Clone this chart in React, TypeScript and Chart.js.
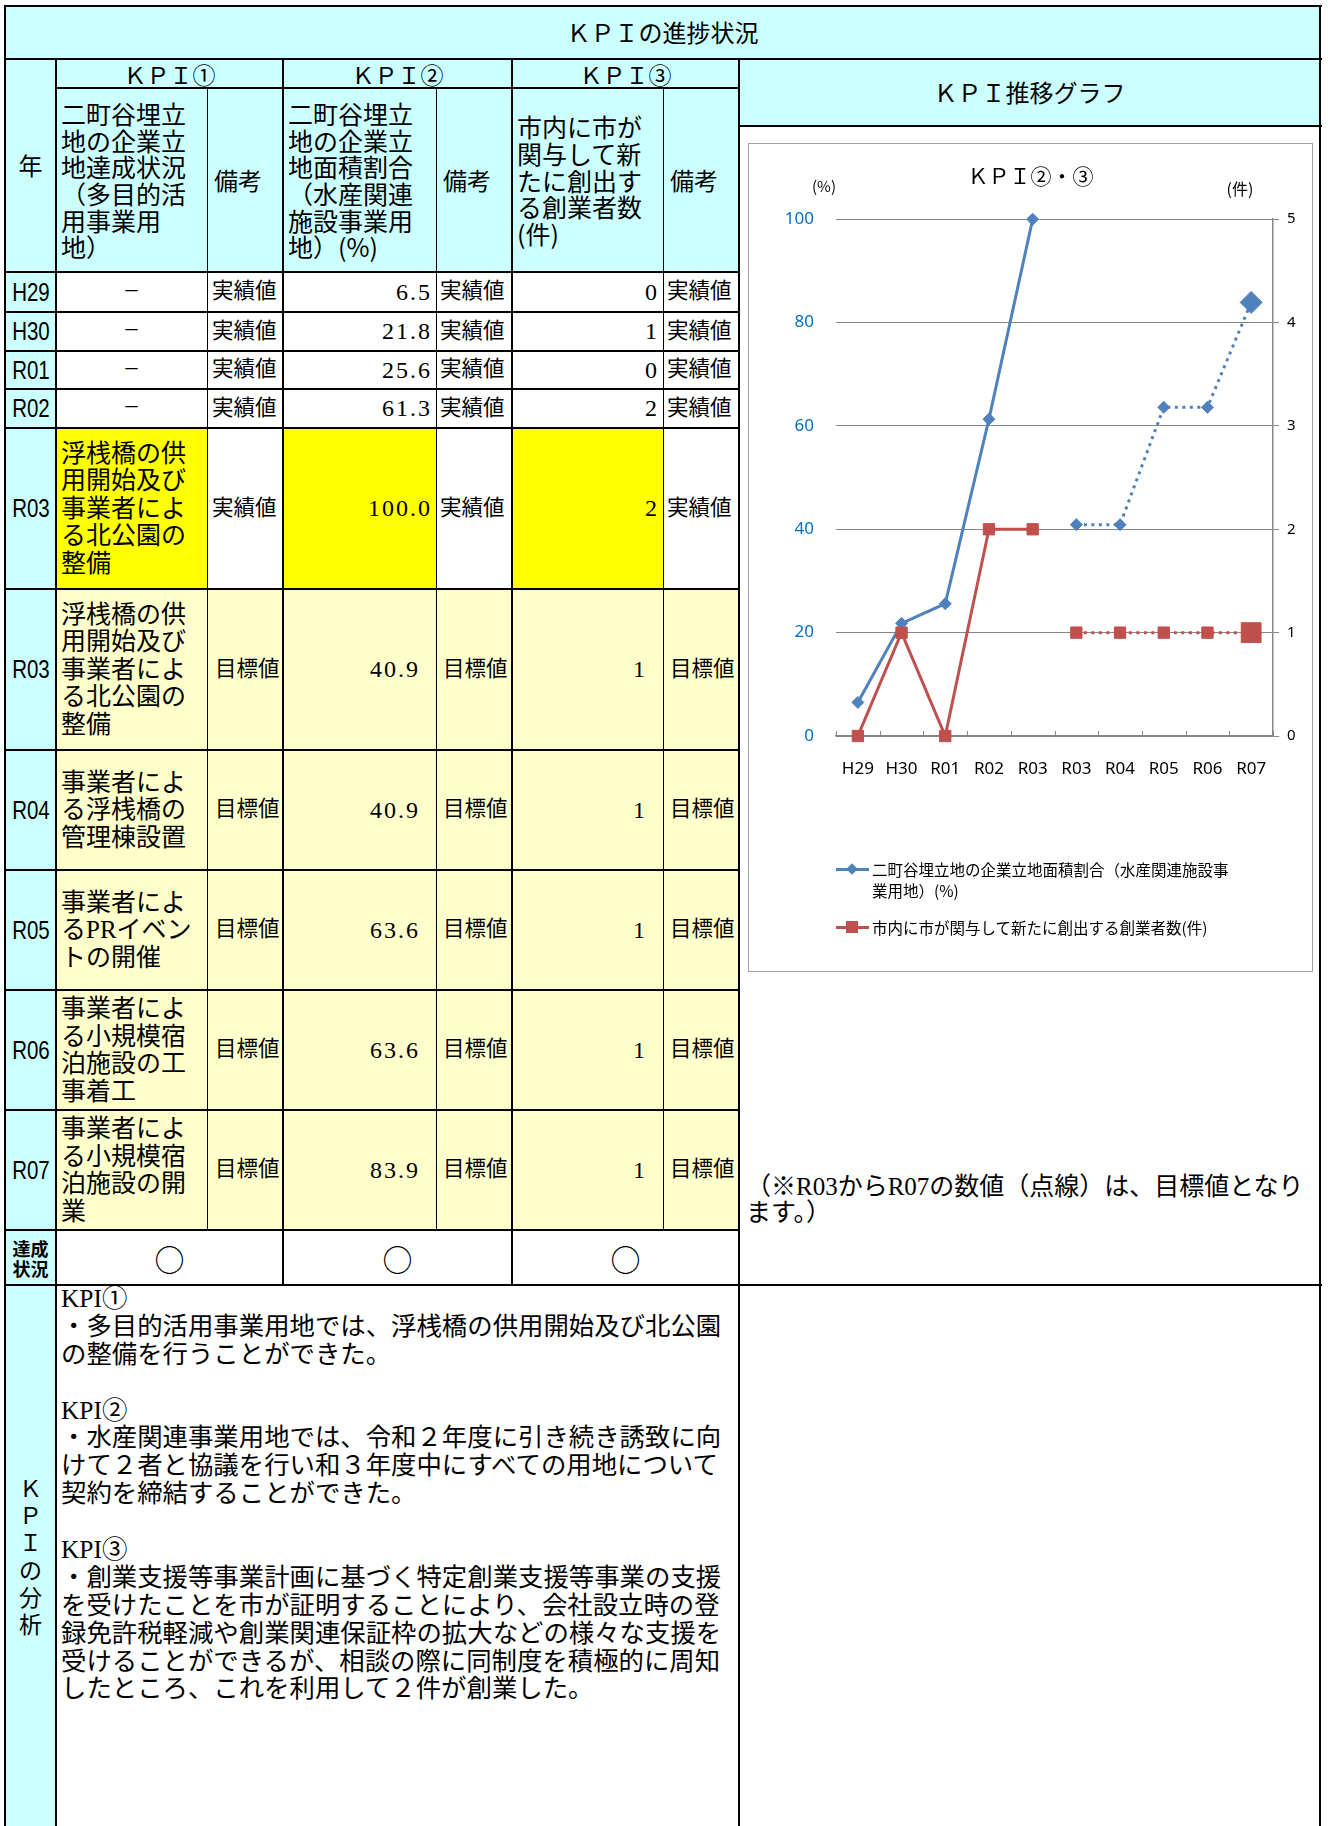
import React, { useEffect, useRef } from 'react';
import { Chart, registerables } from 'chart.js';

Chart.register(...registerables);

// ---------------- data ----------------
const categories = ['H29', 'H30', 'R01', 'R02', 'R03', 'R03', 'R04', 'R05', 'R06', 'R07'];
const valueKinds = ['実績値', '実績値', '実績値', '実績値', '実績値', '目標値', '目標値', '目標値', '目標値', '目標値'];
const kpi1Status = [
  '－', '－', '－', '－',
  '浮桟橋の供\n用開始及び\n事業者によ\nる北公園の\n整備',
  '浮桟橋の供\n用開始及び\n事業者によ\nる北公園の\n整備',
  '事業者によ\nる浮桟橋の\n管理棟設置',
  '事業者によ\nるPRイベン\nトの開催',
  '事業者によ\nる小規模宿\n泊施設の工\n事着工',
  '事業者によ\nる小規模宿\n泊施設の開\n業',
];
const kpi2Actual = [6.5, 21.8, 25.6, 61.3, 100.0, null, null, null, null, null];
const kpi2Target = [null, null, null, null, null, 40.9, 40.9, 63.6, 63.6, 83.9];
const kpi3Actual = [0, 1, 0, 2, 2, null, null, null, null, null];
const kpi3Target = [null, null, null, null, null, 1, 1, 1, 1, 1];
const leftTicks = [0, 20, 40, 60, 80, 100];
const rightTicks = [0, 1, 2, 3, 4, 5];
const seriesNames = [
  '二町谷埋立地の企業立地面積割合（水産関連施設事業用地）(%)',
  '市内に市が関与して新たに創出する創業者数(件)',
];
const achievement = ['○', '○', '○'];
const kpiHeaders = ['ＫＰＩ①', 'ＫＰＩ②', 'ＫＰＩ③'];
const kpiSubHeaders = [
  '二町谷埋立\n地の企業立\n地達成状況\n（多目的活\n用事業用\n地）',
  '二町谷埋立\n地の企業立\n地面積割合\n（水産関連\n施設事業用\n地）(%)',
  '市内に市が\n関与して新\nたに創出す\nる創業者数\n(件)',
];
const analysisLines = [
  'KPI①',
  '・多目的活用事業用地では、浮桟橋の供用開始及び北公園',
  'の整備を行うことができた。',
  '',
  'KPI②',
  '・水産関連事業用地では、令和２年度に引き続き誘致に向',
  'けて２者と協議を行い和３年度中にすべての用地について',
  '契約を締結することができた。',
  '',
  'KPI③',
  '・創業支援等事業計画に基づく特定創業支援等事業の支援',
  'を受けたことを市が証明することにより、会社設立時の登',
  '録免許税軽減や創業関連保証枠の拡大などの様々な支援を',
  '受けることができるが、相談の際に同制度を積極的に周知',
  'したところ、これを利用して２件が創業した。',
];
const pageTitle = 'ＫＰＩの進捗状況';
const graphHeader = 'ＫＰＩ推移グラフ';
const chartTitle = 'ＫＰＩ②・③';
const noteText = '（※R03からR07の数値（点線）は、目標値となり\nます。）';

// ---------------- layout / styles ----------------
const GOTHIC = '"Noto Sans CJK JP", "Noto Sans", sans-serif';
const MINCHO = '"Liberation Serif", "Noto Sans CJK JP", serif';
const LATIN = '"Noto Sans", "Noto Sans CJK JP", sans-serif';
const CYAN = '#CCFFFF';
const YELLOW = '#FFFF00';
const LIGHTY = '#FFFFCC';
const BLUE = '#4F81BD';
const RED = '#C0504D';
const GRID = '#868686';

const COLS = [5, 56, 207, 283, 436, 512, 663, 739, 1320];
const ROWS = [272, 312, 351, 389, 428, 589, 750, 870, 990, 1110, 1230];

type CellProps = {
  x1: number; y1: number; x2: number; y2: number;
  bg?: string; align?: 'left' | 'center' | 'right'; padL?: number; padR?: number;
  font?: string; size?: number; lh?: number; weight?: any; valign?: 'center' | 'start';
  extra?: React.CSSProperties; children?: React.ReactNode;
};

function Cell(p: CellProps) {
  const size = p.size ?? 24;
  return (
    <div
      style={{
        position: 'absolute', left: p.x1, top: p.y1, width: p.x2 - p.x1, height: p.y2 - p.y1,
        background: p.bg ?? 'transparent', display: 'flex',
        alignItems: p.valign === 'start' ? 'flex-start' : 'center',
        justifyContent: p.align === 'left' ? 'flex-start' : p.align === 'right' ? 'flex-end' : 'center',
        textAlign: p.align ?? 'center',
        paddingLeft: p.padL ?? 0, paddingRight: p.padR ?? 0, boxSizing: 'border-box',
        fontFamily: p.font ?? GOTHIC, fontSize: size, lineHeight: `${p.lh ?? size * 1.2}px`,
        color: '#000', whiteSpace: 'pre', fontWeight: p.weight ?? 'normal', overflow: 'visible',
        ...p.extra,
      }}
    >
      {p.children}
    </div>
  );
}

const hLines: [number, number, number, number][] = [
  [6, 4, 1322, 2.5], [59, 4, 1322, 2.5], [88, 56, 739, 1.5], [126, 739, 1322, 2.5],
  [272, 4, 739, 2.5], [312, 4, 739, 1.5], [351, 4, 739, 1.5], [389, 4, 739, 1.5],
  [428, 4, 739, 2], [589, 4, 739, 1.5], [750, 4, 739, 1.5], [870, 4, 739, 1.5],
  [990, 4, 739, 1.5], [1110, 4, 739, 1.5], [1230, 4, 739, 2.5], [1285, 4, 1322, 2.5],
];
const vLines: [number, number, number, number][] = [
  [5, 5, 1826, 2.5], [1320, 5, 1826, 2.5], [56, 59, 1826, 2], [207, 88, 1230, 1],
  [283, 59, 1285, 2], [436, 88, 1230, 1], [512, 59, 1285, 2], [663, 88, 1230, 1],
  [739, 59, 1826, 2],
];

const insideTicks = {
  id: 'insideTicks',
  afterDraw(chart: any) {
    const xs = chart.scales.x;
    const area = chart.chartArea;
    const n = xs.ticks.length;
    const step = (area.right - area.left) / n;
    const ctx = chart.ctx;
    ctx.save();
    ctx.strokeStyle = GRID;
    ctx.lineWidth = 1;
    ctx.beginPath();
    for (let i = 0; i <= n; i++) {
      const x = Math.round(area.left + i * step) + 0.5;
      ctx.moveTo(x, area.bottom);
      ctx.lineTo(x, area.bottom - 5);
    }
    ctx.stroke();
    ctx.restore();
  },
};

function KpiChart() {
  const ref = useRef<HTMLCanvasElement | null>(null);
  useEffect(() => {
    if (!ref.current) return;
    const lastIdx = categories.length - 1;
    const chart = new Chart(ref.current, {
      type: 'line',
      data: {
        labels: categories,
        datasets: [
          {
            label: seriesNames[1], data: kpi3Actual, yAxisID: 'y1', order: 0,
            borderColor: RED, backgroundColor: RED, borderWidth: 3,
            pointStyle: 'rect', pointRadius: 8, pointBorderWidth: 1, pointBorderColor: RED,
            pointBackgroundColor: RED, spanGaps: false, clip: false, tension: 0,
          },
          {
            label: seriesNames[1] + ' 目標値', data: kpi3Target, yAxisID: 'y1', order: 0,
            borderColor: RED, backgroundColor: RED, borderWidth: 3, borderDash: [3, 4.5],
            pointStyle: 'rect', pointRadius: (c: any) => (c.dataIndex === lastIdx ? 14 : 8),
            pointBorderWidth: 1, pointBorderColor: RED, pointBackgroundColor: RED,
            spanGaps: false, clip: false, tension: 0,
          },
          {
            label: seriesNames[0], data: kpi2Actual, yAxisID: 'y', order: 1,
            borderColor: BLUE, backgroundColor: BLUE, borderWidth: 3,
            pointStyle: 'rectRot', pointRadius: 6, pointBorderWidth: 1, pointBorderColor: BLUE,
            pointBackgroundColor: BLUE, spanGaps: false, clip: false, tension: 0,
          },
          {
            label: seriesNames[0] + ' 目標値', data: kpi2Target, yAxisID: 'y', order: 1,
            borderColor: BLUE, backgroundColor: BLUE, borderWidth: 3, borderDash: [3, 4.5],
            pointStyle: 'rectRot', pointRadius: (c: any) => (c.dataIndex === lastIdx ? 11 : 6),
            pointBorderWidth: 1, pointBorderColor: BLUE, pointBackgroundColor: BLUE,
            spanGaps: false, clip: false, tension: 0,
          },
        ],
      },
      options: {
        animation: false,
        responsive: false,
        maintainAspectRatio: false,
        layout: { padding: { left: 0, right: 0, top: 0, bottom: 195 } },
        plugins: {
          legend: { display: false },
          tooltip: { enabled: false },
          title: {
            display: true, text: chartTitle, color: '#000',
            font: { family: GOTHIC, size: 21, weight: 'normal' },
            padding: { top: 19, bottom: 31 },
          },
        },
        scales: {
          x: {
            offset: true,
            grid: { display: false },
            border: { display: true, color: GRID, width: 1.5 },
            ticks: { color: '#000', font: { family: LATIN, size: 17 }, padding: 15, maxRotation: 0, autoSkip: false },
            afterFit: (s: any) => { s.height = 40; },
          },
          y: {
            position: 'left',
            min: leftTicks[0], max: leftTicks[leftTicks.length - 1],
            ticks: { stepSize: leftTicks[1] - leftTicks[0], color: '#0070C0', font: { family: LATIN, size: 17 }, padding: 22 },
            grid: { color: GRID, drawTicks: false, lineWidth: 1 },
            border: { display: false },
            afterFit: (s: any) => { s.width = 87; },
          },
          y1: {
            position: 'right',
            min: rightTicks[0], max: rightTicks[rightTicks.length - 1],
            ticks: { stepSize: rightTicks[1] - rightTicks[0], color: '#000', font: { family: LATIN, size: 15 }, padding: 8 },
            grid: { drawOnChartArea: false, drawTicks: true, tickLength: 6, color: GRID },
            border: { display: true, color: GRID, width: 1.5 },
            afterFit: (s: any) => { s.width = 39; },
          },
        },
      } as any,
      plugins: [insideTicks],
    });
    return () => chart.destroy();
  }, []);
  return (
    <canvas
      ref={ref}
      width={563}
      height={827}
      style={{ position: 'absolute', left: 749, top: 144, width: 563, height: 827 }}
    />
  );
}

function LegendIcon({ color, shape, top }: { color: string; shape: 'diamond' | 'square'; top: number }) {
  return (
    <>
      <div style={{ position: 'absolute', left: 836, top: top - 1.5, width: 33, height: 3, background: color }} />
      {shape === 'diamond' ? (
        <div style={{ position: 'absolute', left: 852 - 4, top: top - 4, width: 8, height: 8, background: color, transform: 'rotate(45deg)' }} />
      ) : (
        <div style={{ position: 'absolute', left: 852 - 6, top: top - 6, width: 12, height: 12, background: color }} />
      )}
    </>
  );
}

export default function App() {
  const rowBg = (i: number, yellowCell: boolean) => (i < 4 ? '#fff' : i === 4 ? (yellowCell ? YELLOW : '#fff') : LIGHTY);
  const legendLine1 = seriesNames[0].slice(0, 23) + '\n' + seriesNames[0].slice(23);

  return (
    <div style={{ position: 'absolute', left: 0, top: 0, width: 1328, height: 1826, overflow: 'hidden', background: '#fff' }}>
      {/* title */}
      <Cell x1={5} y1={6} x2={1320} y2={59} bg={CYAN} size={24}>{pageTitle}</Cell>
      {/* 年 */}
      <Cell x1={5} y1={59} x2={56} y2={272} bg={CYAN} size={24}>年</Cell>
      {/* KPI group headers */}
      {kpiHeaders.map((h, g) => (
        <Cell key={'kh' + g} x1={COLS[1 + 2 * g]} y1={59} x2={COLS[3 + 2 * g]} y2={88} bg={CYAN} size={23} lh={28}>{h}</Cell>
      ))}
      {kpiSubHeaders.map((h, g) => (
        <React.Fragment key={'ks' + g}>
          <Cell x1={COLS[1 + 2 * g]} y1={88} x2={COLS[2 + 2 * g]} y2={272} bg={CYAN} align="left" padL={5} size={25} lh={26.7}>{h}</Cell>
          <Cell x1={COLS[2 + 2 * g]} y1={88} x2={COLS[3 + 2 * g]} y2={272} bg={CYAN} align="left" padL={7} size={24}>備考</Cell>
        </React.Fragment>
      ))}
      {/* graph header */}
      <Cell x1={739} y1={59} x2={1320} y2={126} bg={CYAN} size={24}>{graphHeader}</Cell>

      {/* data rows */}
      {categories.map((cat, i) => {
        const y1 = ROWS[i];
        const y2 = ROWS[i + 1];
        const isTarget = valueKinds[i] === '目標値';
        const v2 = kpi2Actual[i] ?? kpi2Target[i];
        const v3 = kpi3Actual[i] ?? kpi3Target[i];
        const status = kpi1Status[i];
        const padKind = isTarget ? 8 : 5;
        const padNum = isTarget ? 16 : 4;
        const noteBg = isTarget ? LIGHTY : '#fff';
        return (
          <React.Fragment key={'r' + i}>
            <Cell x1={COLS[0]} y1={y1} x2={COLS[1]} y2={y2} bg={CYAN}>
              <span style={{ fontFamily: '"Liberation Sans", sans-serif', fontSize: 25, display: 'inline-block', transform: 'scaleX(0.82)' }}>{cat}</span>
            </Cell>
            {status === '－' ? (
              <Cell x1={COLS[1]} y1={y1} x2={COLS[2]} y2={y2} bg={rowBg(i, true)} font={MINCHO} size={17}>{status}</Cell>
            ) : (
              <Cell x1={COLS[1]} y1={y1} x2={COLS[2]} y2={y2} bg={rowBg(i, true)} align="left" padL={5} font={MINCHO} size={25} lh={27.5}>{status}</Cell>
            )}
            <Cell x1={COLS[2]} y1={y1} x2={COLS[3]} y2={y2} bg={noteBg} align="left" padL={padKind} font={MINCHO} size={21.5}>{valueKinds[i]}</Cell>
            <Cell x1={COLS[3]} y1={y1} x2={COLS[4]} y2={y2} bg={rowBg(i, true)} align="right" padR={padNum} font={MINCHO} size={24} extra={{ letterSpacing: 2 }}>{v2 == null ? '' : v2.toFixed(1)}</Cell>
            <Cell x1={COLS[4]} y1={y1} x2={COLS[5]} y2={y2} bg={noteBg} align="left" padL={isTarget ? 7 : 4} font={MINCHO} size={21.5}>{valueKinds[i]}</Cell>
            <Cell x1={COLS[5]} y1={y1} x2={COLS[6]} y2={y2} bg={rowBg(i, true)} align="right" padR={padNum} font={MINCHO} size={24} extra={{ letterSpacing: 2 }}>{v3 == null ? '' : String(v3)}</Cell>
            <Cell x1={COLS[6]} y1={y1} x2={COLS[7]} y2={y2} bg={noteBg} align="left" padL={isTarget ? 7 : 4} font={MINCHO} size={21.5}>{valueKinds[i]}</Cell>
          </React.Fragment>
        );
      })}

      {/* achievement row */}
      <Cell x1={5} y1={1230} x2={56} y2={1285} bg={CYAN} size={18} lh={20} weight="bold">{'達成\n状況'}</Cell>
      {achievement.map((a, g) => (
        <Cell key={'a' + g} x1={COLS[1 + 2 * g]} y1={1230} x2={COLS[3 + 2 * g]} y2={1285} size={30} lh={34}>{a}</Cell>
      ))}

      {/* analysis */}
      <Cell x1={5} y1={1285} x2={56} y2={1826} bg={CYAN} size={23} lh={27.3}>{'Ｋ\nＰ\nＩ\nの\n分\n析'}</Cell>
      <div style={{ position: 'absolute', left: 61, top: 1285, width: 675, fontFamily: MINCHO, fontSize: 25.4, color: '#000' }}>
        {analysisLines.map((l, i) => (
          <div key={'al' + i} style={{ height: 27.9, lineHeight: '27.9px', whiteSpace: 'pre' }}>{l}</div>
        ))}
      </div>

      {/* chart frame */}
      <div style={{ position: 'absolute', left: 748, top: 143, width: 563, height: 827, border: '1px solid #A0A0A0', background: '#fff' }} />
      <KpiChart />
      <div style={{ position: 'absolute', left: 804, top: 176, width: 40, textAlign: 'center', fontFamily: GOTHIC, fontSize: 15, lineHeight: '20px', color: '#000' }}>(%)</div>
      <div style={{ position: 'absolute', left: 1220, top: 178, width: 40, textAlign: 'center', fontFamily: GOTHIC, fontSize: 16, lineHeight: '20px', color: '#000' }}>(件)</div>

      {/* legend */}
      <LegendIcon color={BLUE} shape="diamond" top={869} />
      <div style={{ position: 'absolute', left: 872, top: 858.5, fontFamily: GOTHIC, fontSize: 15.5, lineHeight: '21px', whiteSpace: 'pre', color: '#000' }}>{legendLine1}</div>
      <LegendIcon color={RED} shape="square" top={927} />
      <div style={{ position: 'absolute', left: 872, top: 916.5, fontFamily: GOTHIC, fontSize: 15.5, lineHeight: '21px', whiteSpace: 'pre', color: '#000' }}>{seriesNames[1]}</div>

      {/* note */}
      <div style={{ position: 'absolute', left: 746, top: 1174, fontFamily: MINCHO, fontSize: 25, lineHeight: '26px', whiteSpace: 'pre', color: '#000' }}>{noteText}</div>

      {/* grid lines */}
      {hLines.map(([y, x1, x2, w], i) => (
        <div key={'h' + i} style={{ position: 'absolute', left: x1, top: y - w / 2, width: x2 - x1, height: w, background: '#000' }} />
      ))}
      {vLines.map(([x, y1, y2, w], i) => (
        <div key={'v' + i} style={{ position: 'absolute', left: x - w / 2, top: y1, width: w, height: y2 - y1, background: '#000' }} />
      ))}
    </div>
  );
}
